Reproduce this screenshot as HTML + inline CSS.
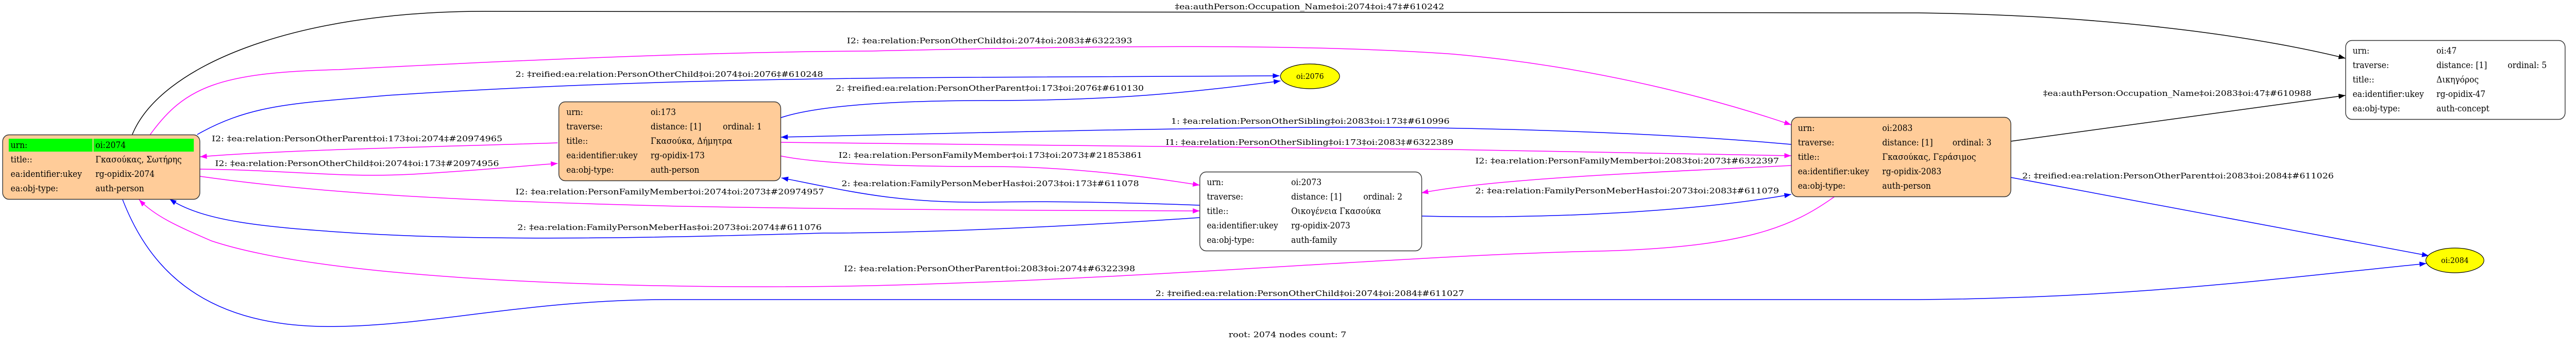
<!DOCTYPE html>
<html><head><meta charset="utf-8"><style>
html,body{margin:0;padding:0;background:#fff;width:100%;height:100%;overflow:hidden;}
svg{display:block;position:absolute;left:0;top:0;width:100vw;height:100vh;}
text{font-family:"DejaVu Serif","Liberation Serif",serif;fill:#000;}
.n{font-size:16.5px;}
.e{font-size:15px;}
</style></head><body>
<svg viewBox="0 0 5317 671" preserveAspectRatio="none" xmlns="http://www.w3.org/2000/svg">
<defs>
<marker id="ab" markerWidth="14" markerHeight="10" refX="14" refY="5" orient="auto" markerUnits="userSpaceOnUse"><path d="M0,0 L14,5 L0,10 z" fill="#000"/></marker>
<marker id="au" markerWidth="14" markerHeight="10" refX="14" refY="5" orient="auto" markerUnits="userSpaceOnUse"><path d="M0,0 L14,5 L0,10 z" fill="#0000ff"/></marker>
<marker id="am" markerWidth="14" markerHeight="10" refX="14" refY="5" orient="auto" markerUnits="userSpaceOnUse"><path d="M0,0 L14,5 L0,10 z" fill="#ff00ff"/></marker>
</defs>
<g fill="none" stroke-width="1.5">
<path d="M273,261 C330,130 600,22 1000,22 L3960,25 C4400,30 4700,80 4841,113" stroke="#000" marker-end="url(#ab)"/>
<path d="M310,261 C380,170 450,140 700,135 C1100,115 1500,100 1800,99 C2300,88 2700,85 3000,105 C3300,130 3550,195 3697,242" stroke="#ff00ff" marker-end="url(#am)"/>
<path d="M407,261 C520,200 620,200 800,185 C1200,160 1600,152 2000,150 L2641,147" stroke="#0000ff" marker-end="url(#au)"/>
<path d="M1609,229 C1700,200 1900,195 2044,195 C2300,195 2450,180 2643,157" stroke="#0000ff" marker-end="url(#au)"/>
<path d="M3697,280 C3400,255 3000,245 2700,247 C2300,250 1900,260 1612,266" stroke="#0000ff" marker-end="url(#au)"/>
<path d="M1612,276 C2000,280 2700,287 3000,290 C3300,295 3500,300 3697,302" stroke="#ff00ff" marker-end="url(#am)"/>
<path d="M1609,302 C1700,320 1900,323 2044,323 C2200,323 2350,340 2476,359" stroke="#ff00ff" marker-end="url(#am)"/>
<path d="M2476,398 C2300,392 2150,390 2044,392 C1850,395 1750,370 1613,345" stroke="#0000ff" marker-end="url(#au)"/>
<path d="M413,328 C600,330 700,345 850,338 C1000,330 1100,320 1151,317" stroke="#ff00ff" marker-end="url(#am)"/>
<path d="M1151,277 C900,285 600,290 413,304" stroke="#ff00ff" marker-end="url(#am)"/>
<path d="M413,342 C700,380 1000,390 1400,400 C1900,408 2200,408 2476,409" stroke="#ff00ff" marker-end="url(#am)"/>
<path d="M2476,422 C2200,440 1900,452 1700,452 C1400,460 1000,470 700,450 C550,440 420,430 350,386" stroke="#0000ff" marker-end="url(#au)"/>
<path d="M3787,381 C3700,440 3600,480 3300,487 C2900,495 2400,540 1800,554 C1400,562 700,550 436,467 C370,440 320,420 287,387" stroke="#ff00ff" marker-end="url(#am)"/>
<path d="M253,387 C300,500 400,640 700,633 C900,630 1100,581 1378,581 L3959,581 C4400,578 4700,540 5008,511" stroke="#0000ff" marker-end="url(#au)"/>
<path d="M3697,321 C3400,335 3100,345 2934,374" stroke="#ff00ff" marker-end="url(#am)"/>
<path d="M2934,419 C3200,425 3500,410 3697,377" stroke="#0000ff" marker-end="url(#au)"/>
<path d="M4150,274 L4841,185" stroke="#000" marker-end="url(#ab)"/>
<path d="M4150,344 L5013,496" stroke="#0000ff" marker-end="url(#au)"/>
</g>
<g class="e">
<text x="2425" y="18" textLength="556" lengthAdjust="spacingAndGlyphs">‡ea:authPerson:Occupation_Name‡oi:2074‡oi:47‡#610242</text>
<text x="1748" y="84" textLength="589" lengthAdjust="spacingAndGlyphs">I2: ‡ea:relation:PersonOtherChild‡oi:2074‡oi:2083‡#6322393</text>
<text x="1064" y="149" textLength="635" lengthAdjust="spacingAndGlyphs">2: ‡reified:ea:relation:PersonOtherChild‡oi:2074‡oi:2076‡#610248</text>
<text x="1725" y="176" textLength="636" lengthAdjust="spacingAndGlyphs">2: ‡reified:ea:relation:PersonOtherParent‡oi:173‡oi:2076‡#610130</text>
<text x="2417" y="240" textLength="575" lengthAdjust="spacingAndGlyphs">1: ‡ea:relation:PersonOtherSibling‡oi:2083‡oi:173‡#610996</text>
<text x="2406" y="281" textLength="594" lengthAdjust="spacingAndGlyphs">I1: ‡ea:relation:PersonOtherSibling‡oi:173‡oi:2083‡#6322389</text>
<text x="1731" y="306" textLength="627" lengthAdjust="spacingAndGlyphs">I2: ‡ea:relation:PersonFamilyMember‡oi:173‡oi:2073‡#21853861</text>
<text x="1737" y="361" textLength="614" lengthAdjust="spacingAndGlyphs">2: ‡ea:relation:FamilyPersonMeberHas‡oi:2073‡oi:173‡#611078</text>
<text x="444" y="322" textLength="586" lengthAdjust="spacingAndGlyphs">I2: ‡ea:relation:PersonOtherChild‡oi:2074‡oi:173‡#20974956</text>
<text x="437" y="274" textLength="600" lengthAdjust="spacingAndGlyphs">I2: ‡ea:relation:PersonOtherParent‡oi:173‡oi:2074‡#20974965</text>
<text x="1064" y="377" textLength="637" lengthAdjust="spacingAndGlyphs">I2: ‡ea:relation:PersonFamilyMember‡oi:2074‡oi:2073‡#20974957</text>
<text x="1068" y="446" textLength="628" lengthAdjust="spacingAndGlyphs">2: ‡ea:relation:FamilyPersonMeberHas‡oi:2073‡oi:2074‡#611076</text>
<text x="1742" y="526" textLength="601" lengthAdjust="spacingAndGlyphs">I2: ‡ea:relation:PersonOtherParent‡oi:2083‡oi:2074‡#6322398</text>
<text x="2385" y="574" textLength="637" lengthAdjust="spacingAndGlyphs">2: ‡reified:ea:relation:PersonOtherChild‡oi:2074‡oi:2084‡#611027</text>
<text x="3045" y="317" textLength="627" lengthAdjust="spacingAndGlyphs">I2: ‡ea:relation:PersonFamilyMember‡oi:2083‡oi:2073‡#6322397</text>
<text x="3045" y="375" textLength="627" lengthAdjust="spacingAndGlyphs">2: ‡ea:relation:FamilyPersonMeberHas‡oi:2073‡oi:2083‡#611079</text>
<text x="4217" y="186" textLength="554" lengthAdjust="spacingAndGlyphs">‡ea:authPerson:Occupation_Name‡oi:2083‡oi:47‡#610988</text>
<text x="4174" y="346" textLength="643" lengthAdjust="spacingAndGlyphs">2: ‡reified:ea:relation:PersonOtherParent‡oi:2083‡oi:2084‡#611026</text>
<text x="2536" y="654" textLength="243" lengthAdjust="spacingAndGlyphs">root: 2074 nodes count: 7</text>
</g>
<ellipse cx="2704" cy="148" rx="61" ry="24" fill="#ffff00" stroke="#000" stroke-width="1.2"/>
<text class="e" x="2704" y="153" text-anchor="middle">oi:2076</text>
<ellipse cx="5067" cy="505" rx="60" ry="24" fill="#ffff00" stroke="#000" stroke-width="1.2"/>
<text class="e" x="5067" y="510" text-anchor="middle">oi:2084</text>
<rect x="5.5" y="261.5" width="407" height="125" rx="13" fill="#ffcc99" stroke="#333" stroke-width="1.5"/>
<rect x="18" y="269" width="173" height="25" fill="#00ff00"/>
<rect x="193" y="269" width="207" height="25" fill="#00ff00"/>
<g class="n">
<text x="22" y="287">urn:</text><text x="197" y="287">oi:2074</text>
<text x="22" y="315">title::</text><text x="197" y="315">Γκασούκας, Σωτήρης</text>
<text x="22" y="343">ea:identifier:ukey</text><text x="197" y="343">rg-opidix-2074</text>
<text x="22" y="371">ea:obj-type:</text><text x="197" y="371">auth-person</text>
</g>
<rect x="1153.5" y="197.5" width="458" height="153" rx="13" fill="#ffcc99" stroke="#333" stroke-width="1.5"/>
<g class="n">
<text x="1169" y="223">urn:</text><text x="1343" y="223">oi:173</text>
<text x="1169" y="251">traverse:</text><text x="1343" y="251">distance: [1]</text><text x="1492" y="251">ordinal: 1</text>
<text x="1169" y="279">title::</text><text x="1343" y="279">Γκασούκα, Δήμητρα</text>
<text x="1169" y="307">ea:identifier:ukey</text><text x="1343" y="307">rg-opidix-173</text>
<text x="1169" y="335">ea:obj-type:</text><text x="1343" y="335">auth-person</text>
</g>
<rect x="2476.5" y="333.5" width="458" height="153" rx="13" fill="#fff" stroke="#333" stroke-width="1.5"/>
<g class="n">
<text x="2491" y="359">urn:</text><text x="2665" y="359">oi:2073</text>
<text x="2491" y="387">traverse:</text><text x="2665" y="387">distance: [1]</text><text x="2814" y="387">ordinal: 2</text>
<text x="2491" y="415">title::</text><text x="2665" y="415">Οικογένεια Γκασούκα</text>
<text x="2491" y="443">ea:identifier:ukey</text><text x="2665" y="443">rg-opidix-2073</text>
<text x="2491" y="471">ea:obj-type:</text><text x="2665" y="471">auth-family</text>
</g>
<rect x="3697.5" y="227.5" width="453" height="154" rx="13" fill="#ffcc99" stroke="#333" stroke-width="1.5"/>
<g class="n">
<text x="3711" y="254">urn:</text><text x="3885" y="254">oi:2083</text>
<text x="3711" y="282">traverse:</text><text x="3885" y="282">distance: [1]</text><text x="4030" y="282">ordinal: 3</text>
<text x="3711" y="310">title::</text><text x="3885" y="310">Γκασούκας, Γεράσιμος</text>
<text x="3711" y="338">ea:identifier:ukey</text><text x="3885" y="338">rg-opidix-2083</text>
<text x="3711" y="366">ea:obj-type:</text><text x="3885" y="366">auth-person</text>
</g>
<rect x="4841.5" y="78.5" width="453" height="153" rx="13" fill="#fff" stroke="#333" stroke-width="1.5"/>
<g class="n">
<text x="4856" y="104">urn:</text><text x="5029" y="104">oi:47</text>
<text x="4856" y="132">traverse:</text><text x="5029" y="132">distance: [1]</text><text x="5176" y="132">ordinal: 5</text>
<text x="4856" y="160">title::</text><text x="5029" y="160">Δικηγόρος</text>
<text x="4856" y="188">ea:identifier:ukey</text><text x="5029" y="188">rg-opidix-47</text>
<text x="4856" y="216">ea:obj-type:</text><text x="5029" y="216">auth-concept</text>
</g>
</svg>
</body></html>
